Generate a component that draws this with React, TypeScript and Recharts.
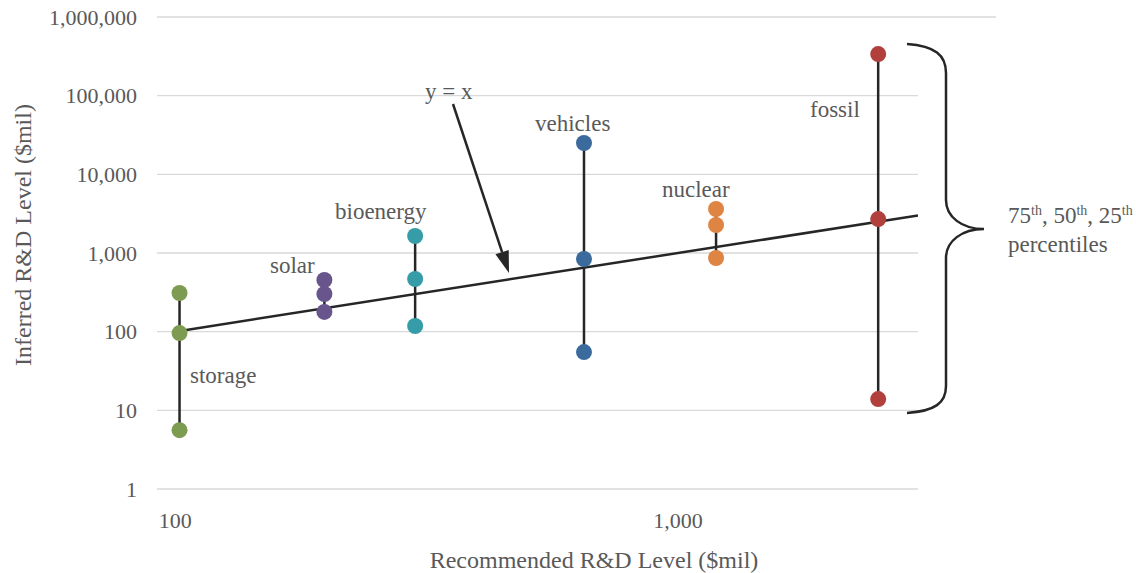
import React from 'react';
import { ScatterChart, Scatter, XAxis, YAxis, CartesianGrid } from 'recharts';

// ---- data ----
const categories = ['storage', 'solar', 'bioenergy', 'vehicles', 'nuclear', 'fossil'];
const recommended = [102, 198, 300, 650, 1190, 2500];
const p25 = [5.6, 178, 118, 55, 864, 13.9];
const p50 = [96, 301, 467, 839, 2268, 2700];
const p75 = [310, 454, 1644, 25000, 3624, 338000];
const identityLine = [100, 3000];
const yTicks = [1, 10, 100, 1000, 10000, 100000, 1000000];
const xTicks = [100, 1000];

// ---- styles ----
const colors = ['#7d9c51', '#68558c', '#359ca8', '#3b6b9c', '#de8543', '#b1403d'];
const FONT = '"Liberation Serif", "DejaVu Serif", serif';
const TEXT = '#595959';
const LINE = '#262626';

const W = 1136;
const H = 573;

const fmt = (v: number) => v.toLocaleString('en-US');

const seriesData = categories.map((c, i) => [
  { x: recommended[i], y: p25[i] },
  { x: recommended[i], y: p50[i] },
  { x: recommended[i], y: p75[i] },
]);
const idData = identityLine.map((v) => ({ x: v, y: v }));

const labelPos: { text: string; x: number; y: number }[] = [
  { text: 'storage', x: 190, y: 383 },
  { text: 'solar', x: 270, y: 273 },
  { text: 'bioenergy', x: 335, y: 219 },
  { text: 'vehicles', x: 535, y: 131 },
  { text: 'nuclear', x: 662, y: 197 },
  { text: 'fossil', x: 810, y: 117 },
  { text: 'y = x', x: 425, y: 99 },
];

const Dot = (color: string) => (props: any) => (
  <circle cx={props.cx} cy={props.cy} r={8} fill={color} />
);

const Nothing = () => <g />;

export default function App() {
  // arrow geometry
  const ax1 = 453, ay1 = 104, ax2 = 509, ay2 = 273;
  const dx = ax2 - ax1, dy = ay2 - ay1;
  const len = Math.sqrt(dx * dx + dy * dy);
  const ux = dx / len, uy = dy / len;
  const hl = 22, hw = 7;
  const bx = ax2 - ux * hl, by = ay2 - uy * hl;
  const p1x = bx - uy * hw, p1y = by + ux * hw;
  const p2x = bx + uy * hw, p2y = by - ux * hw;

  return (
    <div style={{ position: 'absolute', left: 0, top: 0, width: W, height: H, background: '#fff' }}>
      <ScatterChart width={W} height={H} margin={{ top: 17, right: 218, bottom: 0, left: 0 }}>
        <CartesianGrid vertical={false} stroke="#d9d9d9" strokeWidth={1.3} />
        <XAxis
          type="number"
          dataKey="x"
          scale="log"
          domain={[92, 3000]}
          allowDataOverflow
          ticks={xTicks}
          tickFormatter={fmt}
          axisLine={false}
          tickLine={false}
          tickSize={0}
          tickMargin={23}
          height={84}
          tick={{ fontFamily: FONT, fontSize: 22, fill: TEXT }}
        />
        <YAxis
          type="number"
          dataKey="y"
          scale="log"
          domain={[1, 1000000]}
          allowDataOverflow
          ticks={yTicks}
          tickFormatter={fmt}
          axisLine={false}
          tickLine={false}
          tickSize={0}
          tickMargin={20}
          width={157}
          interval={0}
          tick={{ fontFamily: FONT, fontSize: 22, fill: TEXT }}
        />
        <Scatter
          data={idData}
          line={{ stroke: LINE, strokeWidth: 2.5 }}
          lineType="joint"
          shape={Nothing}
          isAnimationActive={false}
        />
        {seriesData.map((d, i) => (
          <Scatter
            key={categories[i]}
            name={categories[i]}
            data={d}
            line={{ stroke: LINE, strokeWidth: 2.5 }}
            lineType="joint"
            shape={Dot(colors[i])}
            isAnimationActive={false}
          />
        ))}
      </ScatterChart>
      <svg
        width={W}
        height={H}
        style={{ position: 'absolute', left: 0, top: 0, pointerEvents: 'none' }}
      >
        {/* extension of the top gridline */}
        <line x1={918} y1={17} x2={996} y2={17} stroke="#d9d9d9" strokeWidth={1.3} />
        {/* brace */}
        <path
          d="M907,44 C935,46 946,55 946,73 L946,200 C946,217 962,229 984,229 C962,229 946,241 946,258 L946,386 C946,403 935,411 907,413"
          fill="none"
          stroke={LINE}
          strokeWidth={2.5}
        />
        {/* arrow */}
        <line x1={ax1} y1={ay1} x2={bx} y2={by} stroke={LINE} strokeWidth={2.5} />
        <polygon points={`${ax2},${ay2} ${p1x},${p1y} ${p2x},${p2y}`} fill={LINE} />
        {/* labels */}
        {labelPos.map((l) => (
          <text key={l.text} x={l.x} y={l.y} fontFamily={FONT} fontSize={23} fill={TEXT}>
            {l.text}
          </text>
        ))}
        <text x={1008} y={223} fontFamily={FONT} fontSize={23} fill={TEXT}>
          75<tspan fontSize={14} dy={-8}>th</tspan>
          <tspan dy={8}>, 50</tspan>
          <tspan fontSize={14} dy={-8}>th</tspan>
          <tspan dy={8}>, 25</tspan>
          <tspan fontSize={14} dy={-8}>th</tspan>
        </text>
        <text x={1008} y={252} fontFamily={FONT} fontSize={23} fill={TEXT}>
          percentiles
        </text>
        {/* axis titles */}
        <text x={594} y={568} textAnchor="middle" fontFamily={FONT} fontSize={24} fill={TEXT}>
          Recommended R&amp;D Level ($mil)
        </text>
        <text
          x={31}
          y={235}
          textAnchor="middle"
          transform="rotate(-90, 31, 235)"
          fontFamily={FONT}
          fontSize={24}
          fill={TEXT}
        >
          Inferred R&amp;D Level ($mil)
        </text>
      </svg>
    </div>
  );
}
